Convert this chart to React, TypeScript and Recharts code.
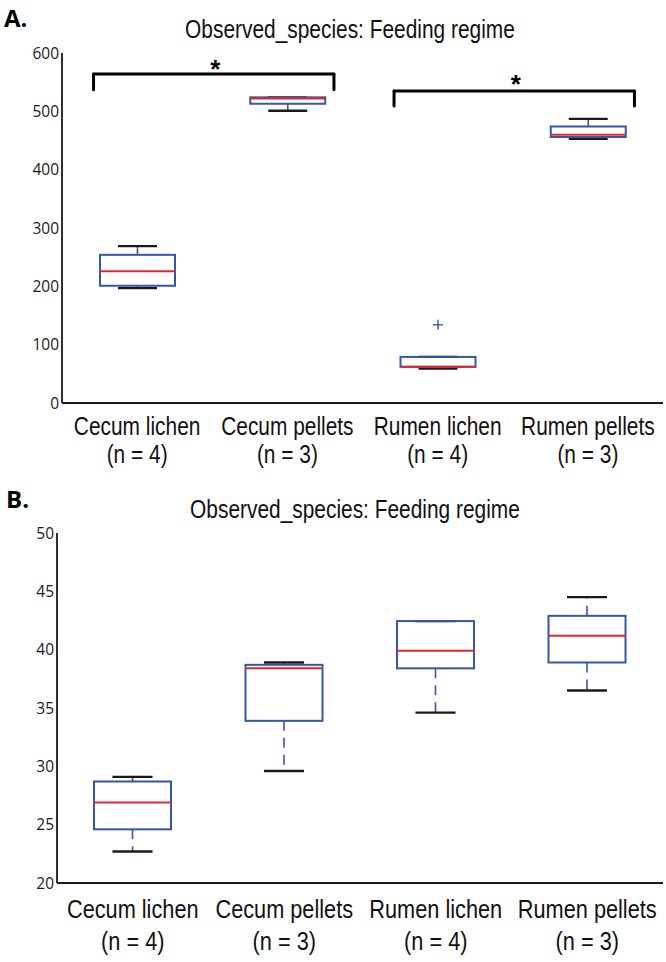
import { ComposedChart, Bar, XAxis, YAxis, ReferenceLine, ReferenceDot } from "recharts";

const groups = ["Cecum lichen", "Cecum pellets", "Rumen lichen", "Rumen pellets"];
const groupN = [4, 3, 4, 3];
const groupX = [0.5, 1.5, 2.5, 3.5];

// panel A: observed species
const aLow = [197, 501, 59, 453];
const aQ1 = [201, 513, 62, 456];
const aMedian = [226, 522, 62, 460];
const aQ3 = [254, 524, 79, 474];
const aHigh = [269, 524, 79, 487];
const aFliers = [[], [], [134], []];
const aTicks = [0, 100, 200, 300, 400, 500, 600];

// panel B
const bLow = [22.7, 29.6, 34.6, 36.5];
const bQ1 = [24.6, 33.9, 38.4, 38.9];
const bMedian = [26.9, 38.4, 39.9, 41.2];
const bQ3 = [28.7, 38.7, 42.45, 42.9];
const bHigh = [29.1, 38.9, 42.45, 44.5];
const bFliers = [[], [], [], []];
const bTicks = [20, 25, 30, 35, 40, 45, 50];

// significance brackets (panel A)
const sigPairs = [[0, 1], [2, 3]];
const sigTop = [564, 535];
const sigLeg = [537, 509];
const sigStar = [583, 557];

const BLUE = "#3557a8";
const RED = "#e3262b";
const INK = "#1a1a1a";
const NARROW = "'Liberation Sans', Arial, sans-serif";
const TICKFONT = "'Open Sans', 'DejaVu Sans', sans-serif";

const makeRows = (lo: number[], q1: number[], med: number[], q3: number[], hi: number[], fl: number[][]) =>
  groups.map((g, i) => ({
    name: g,
    x: groupX[i],
    low: lo[i],
    q1: q1[i],
    med: med[i],
    q3: q3[i],
    high: hi[i],
    fliers: fl[i],
  }));

const rowsA = makeRows(aLow, aQ1, aMedian, aQ3, aHigh, aFliers);
const rowsB = makeRows(bLow, bQ1, bMedian, bQ3, bHigh, bFliers);

function BoxShape(props: any) {
  const { x, y, width, height, payload } = props;
  const top = Math.min(y, y + height);
  const bottom = Math.max(y, y + height);
  const { low, high, q1, med, q3, fliers } = payload;
  // bar spans low..high, so map other values along it
  const py = (v: number) => bottom - ((v - low) / (high - low)) * (bottom - top);
  const cx = x + width / 2;
  const capW = width * 0.52;
  return (
    <g>
      <line x1={cx} x2={cx} y1={py(q3)} y2={py(high)} stroke={BLUE} strokeWidth={1.6} strokeDasharray="10 7" />
      <line x1={cx} x2={cx} y1={py(q1)} y2={py(low)} stroke={BLUE} strokeWidth={1.6} strokeDasharray="10 7" />
      <line x1={cx - capW / 2} x2={cx + capW / 2} y1={py(high)} y2={py(high)} stroke={INK} strokeWidth={2.4} />
      <line x1={cx - capW / 2} x2={cx + capW / 2} y1={py(low)} y2={py(low)} stroke={INK} strokeWidth={2.4} />
      <rect x={x} y={py(q3)} width={width} height={py(q1) - py(q3)} fill="none" stroke={BLUE} strokeWidth={2} />
      <line x1={x} x2={x + width} y1={py(med)} y2={py(med)} stroke={RED} strokeWidth={2} />
      {fliers.map((f: number, k: number) => (
        <g key={k} stroke={BLUE} strokeWidth={1.4}>
          <line x1={cx - 5} x2={cx + 5} y1={py(f)} y2={py(f)} />
          <line x1={cx} x2={cx} y1={py(f) - 5} y2={py(f) + 5} />
        </g>
      ))}
    </g>
  );
}

function GroupTick(props: any) {
  const { x, y, payload, l1, l2, size } = props;
  const i = groupX.indexOf(payload.value);
  if (i < 0) return null;
  return (
    <g fill="#111" fontFamily={NARROW} fontSize={size}>
      <text transform={`translate(${x},${y + l1}) scale(0.82,1)`} textAnchor="middle">
        {groups[i]}
      </text>
      <text transform={`translate(${x},${y + l2}) scale(0.82,1)`} textAnchor="middle">
        {`(n = ${groupN[i]})`}
      </text>
    </g>
  );
}

function Panel(props: {
  rows: any[];
  domain: [number, number];
  ticks: number[];
  height: number;
  yWidth: number;
  xHeight: number;
  l1: number;
  l2: number;
  size: number;
  barSize: number;
  brackets?: boolean;
}) {
  const { rows, domain, ticks, height, yWidth, xHeight, l1, l2, size, barSize, brackets } = props;
  const frame = { stroke: INK, strokeWidth: 1.8 };
  const inTick = { stroke: INK, strokeWidth: 1 };
  return (
    <ComposedChart width={666} height={height} data={rows} margin={{ top: 53, right: 3, left: 0, bottom: 0 }}>
      <XAxis
        xAxisId="b"
        dataKey="x"
        type="number"
        domain={[0, 4]}
        ticks={groupX}
        interval={0}
        height={xHeight}
        axisLine={frame}
        tickLine={false}
        tickSize={0}
        tickMargin={0}
        tick={(p: any) => <GroupTick {...p} l1={l1} l2={l2} size={size} />}
      />
      <XAxis
        xAxisId="bm"
        type="number"
        domain={[0, 4]}
        ticks={groupX}
        orientation="bottom"
        mirror
        height={0}
        axisLine={false}
        tick={false}
        tickSize={5}
        tickLine={inTick}
      />
      <XAxis
        xAxisId="t"
        type="number"
        domain={[0, 4]}
        ticks={groupX}
        orientation="top"
        mirror
        height={0}
        axisLine={frame}
        tick={false}
        tickSize={5}
        tickLine={inTick}
      />
      <YAxis
        yAxisId="l"
        domain={domain}
        ticks={ticks}
        width={yWidth}
        axisLine={frame}
        tickLine={false}
        tickSize={2}
        tickMargin={1}
        tick={{ fill: "#1a1a1a", fontSize: 15.5, fontFamily: TICKFONT }}
      />
      <YAxis
        yAxisId="lm"
        orientation="left"
        mirror
        domain={domain}
        ticks={ticks}
        width={0}
        axisLine={false}
        tick={false}
        tickSize={5}
        tickLine={inTick}
      />
      <YAxis
        yAxisId="r"
        orientation="right"
        mirror
        domain={domain}
        ticks={ticks}
        width={0}
        axisLine={frame}
        tick={false}
        tickSize={5}
        tickLine={inTick}
      />
      <Bar
        xAxisId="b"
        yAxisId="l"
        dataKey={(d: any) => [d.low, d.high]}
        barSize={barSize}
        shape={<BoxShape />}
        isAnimationActive={false}
      />
      {brackets &&
        sigPairs.map(([a, b], k) => {
          const x0 = groupX[a] - 0.29;
          const x1 = groupX[b] + 0.31;
          const seg = { xAxisId: "b", yAxisId: "l", stroke: "#000", strokeWidth: 3, strokeLinecap: "round" as const };
          return [
            <ReferenceLine key={`l${k}`} {...seg} segment={[{ x: x0, y: sigLeg[k] }, { x: x0, y: sigTop[k] }]} />,
            <ReferenceLine key={`m${k}`} {...seg} segment={[{ x: x0, y: sigTop[k] }, { x: x1, y: sigTop[k] }]} />,
            <ReferenceLine key={`r${k}`} {...seg} segment={[{ x: x1, y: sigTop[k] }, { x: x1, y: sigLeg[k] }]} />,
            <ReferenceDot
              key={`s${k}`}
              xAxisId="b"
              yAxisId="l"
              x={(groupX[a] + groupX[b]) / 2 + 0.02}
              y={sigStar[k]}
              r={0}
              shape={(p: any) => (
                <text x={p.cx} y={p.cy + 15} textAnchor="middle" fontFamily={NARROW} fontWeight="bold" fontSize={26} fill="#000">
                  *
                </text>
              )}
            />,
          ];
        })}
    </ComposedChart>
  );
}

export default function App() {
  return (
    <div style={{ position: "absolute", left: 0, top: 0, width: 666, height: 962, background: "#fff", overflow: "hidden" }}>
      <div style={{ position: "absolute", left: 0, top: 0 }}>
        <Panel
          rows={rowsA}
          domain={[0, 600]}
          ticks={aTicks}
          height={470}
          yWidth={62}
          xHeight={67}
          l1={32}
          l2={60}
          size={25.5}
          barSize={75}
          brackets
        />
      </div>
      <div style={{ position: "absolute", left: 0, top: 480 }}>
        <Panel
          rows={rowsB}
          domain={[20, 50]}
          ticks={bTicks}
          height={482}
          yWidth={57}
          xHeight={79}
          l1={35}
          l2={67}
          size={26.5}
          barSize={77}
        />
      </div>
      <svg width={666} height={962} style={{ position: "absolute", left: 0, top: 0, pointerEvents: "none" }}>
        <text x={4} y={27} fontFamily="'Open Sans', sans-serif" fontWeight="bold" fontSize={24} fill="#000">
          A.
        </text>
        <text x={6} y={508} fontFamily="'Open Sans', sans-serif" fontWeight="bold" fontSize={24} fill="#000">
          B.
        </text>
        <text transform="translate(350,38) scale(0.82,1)" textAnchor="middle" fontFamily={NARROW} fontSize={25.5} fill="#111">
          Observed_species: Feeding regime
        </text>
        <text transform="translate(355,518) scale(0.82,1)" textAnchor="middle" fontFamily={NARROW} fontSize={25.5} fill="#111">
          Observed_species: Feeding regime
        </text>
      </svg>
    </div>
  );
}
